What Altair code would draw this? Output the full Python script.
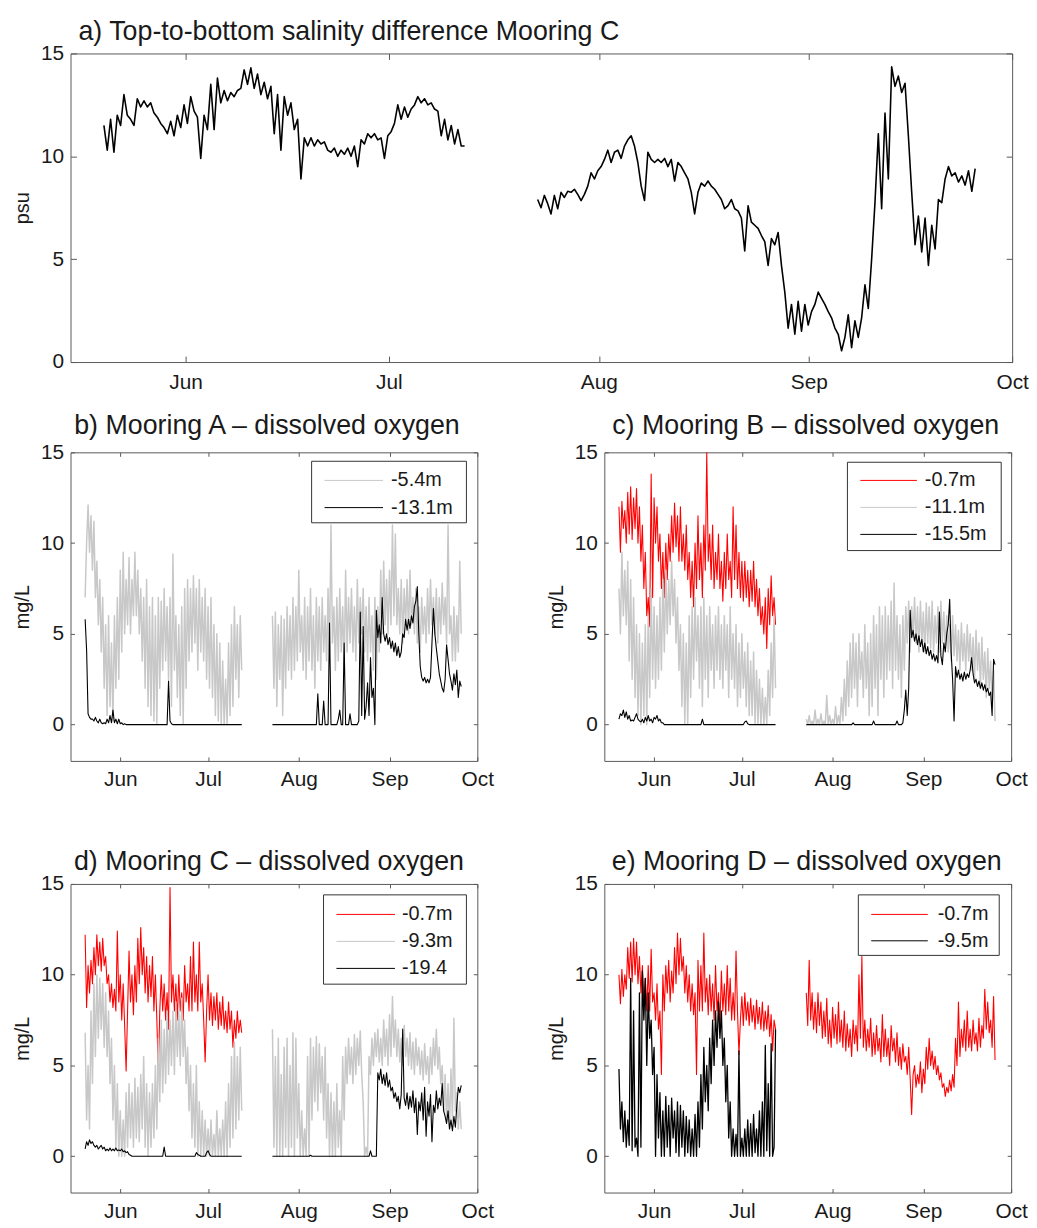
import altair as alt
import numpy as np
import pandas as pd

FONT = "Liberation Sans"
RED = "#ff0000"
GRAY = "#c8c8c8"
BLACK = "#000000"
FRAME = "#5a5a5a"
TEXT = "#1a1a1a"

T0 = pd.Timestamp("2015-05-15 00:00")
X_DOMAIN = [alt.DateTime(year=2015, month=5, date=15), alt.DateTime(year=2015, month=10, date=1)]
TICK_MONTHS = [6, 7, 8, 9, 10]
Y_TICKS = [0, 5, 10, 15]

# sample start (days after 15 May) and step (days)
SEG1_START = 5.0
SEG2_START = 69.0
STEP = 0.5
A_SEG1_START = 4.93
A_SEG2_START = 68.96
A_STEP = 0.493

# ---------------- a) top-to-bottom salinity difference, Mooring C (psu)
A_SEG1 = [11.5, 10.3, 11.8, 10.2, 12.0, 11.5, 13.0, 12.0, 11.8, 11.5,
          12.8, 12.4, 12.7, 12.4, 12.6, 12.1, 11.9, 11.6, 11.4, 11.1,
          11.7, 11.0, 12.0, 11.4, 12.5, 11.6, 12.9, 12.2, 11.9, 9.9,
          12.0, 11.3, 13.5, 11.3, 13.8, 12.6, 13.2, 12.7, 13.1, 12.9,
          13.2, 13.3, 14.2, 13.5, 14.3, 13.3, 14.0, 13.0, 13.6, 12.8,
          13.4, 11.1, 13.0, 10.3, 12.9, 12.0, 12.6, 11.3, 11.8, 8.9,
          10.9, 10.5, 10.9, 10.5, 10.8, 10.6, 10.7, 10.3, 10.2, 10.4,
          10.0, 10.3, 10.1, 10.4, 10.0, 10.5, 9.5, 10.8, 10.6, 11.1,
          10.9, 11.1, 10.8, 10.9, 9.9, 11.0, 11.2, 11.6, 12.5, 11.8,
          12.4, 11.9, 12.3, 12.5, 12.9, 12.6, 12.8, 12.5, 12.6, 12.3,
          12.2, 11.0, 11.8, 10.8, 11.5, 10.6, 11.3, 10.5, 10.5]
A_SEG2 = [7.9, 7.5, 8.1, 7.7, 7.2, 8.1, 7.45, 8.25, 8.0, 8.3,
          8.25, 8.4, 8.15, 7.85, 8.15, 8.55, 9.2, 8.9, 9.3, 9.5,
          9.85, 10.3, 9.7, 10.2, 10.3, 9.9, 10.5, 10.8, 11.0, 10.5,
          9.7, 8.55, 7.85, 10.2, 9.85, 9.7, 9.85, 9.7, 9.9, 9.5,
          9.85, 8.8, 9.7, 9.5, 9.2, 8.9, 8.25, 7.2, 8.25, 8.7,
          8.55, 8.8, 8.55, 8.4, 8.15, 7.9, 7.45, 7.6, 7.9, 7.45,
          7.35, 7.0, 5.4, 7.6, 6.8, 6.65, 6.5, 6.15, 5.85, 4.7,
          6.0, 5.7, 6.3, 4.7, 3.4, 1.65, 2.8, 1.35, 2.95, 1.5,
          2.8, 1.8, 2.45, 2.8, 3.4, 3.1, 2.8, 2.45, 2.15, 1.65,
          1.35, 0.55, 1.2, 2.3, 0.7, 2.0, 1.2, 2.15, 3.75, 2.6,
          5.0, 7.75, 11.1, 7.45, 12.1, 8.9, 14.35, 13.4, 13.9, 13.1,
          13.55, 11.0, 8.25, 5.7, 7.1, 5.35, 7.0, 4.7, 6.65, 5.5,
          7.9, 7.75, 8.9, 9.5, 9.05, 9.2, 8.75, 9.05, 8.6, 9.3,
          8.3, 9.4]

# ---------------- b) Mooring A dissolved oxygen (mg/L)
B_GRAY_1 = [7.0, 10.0, 12.1, 9.5, 11.5, 8.5, 11.2, 7.0, 9.0, 5.5,
            8.0, 4.0, 7.0, 2.0, 5.5, 0.5, 6.0, 1.0, 4.5, 0.2,
            6.0, 2.0, 7.0, 2.5, 8.5, 4.0, 9.5, 5.0, 8.0, 5.5,
            9.2, 5.0, 8.0, 6.0, 9.5, 6.0, 8.5, 5.0, 7.5, 3.5,
            7.0, 2.0, 8.0, 1.0, 6.5, 0.5, 7.0, 0.2, 6.0, 0.0,
            7.0, 2.0, 6.8, 3.0, 7.5, 3.5, 6.5, 2.5, 7.0, 1.0,
            9.4, 3.0, 6.0, 1.5, 5.5, 0.5, 6.5, 0.0, 7.5, 2.0,
            8.0, 3.5, 7.5, 4.0, 8.2, 4.5, 7.5, 3.0, 8.0, 4.0,
            7.0, 3.5, 7.5, 2.5, 6.5, 2.0, 7.0, 1.5, 5.5, 0.5,
            5.0, 0.2, 4.5, 0.0, 3.5, 0.0, 2.5, 0.0, 4.5, 0.5,
            5.5, 1.0, 6.5, 2.5, 5.5, 1.5, 6.0, 3.0]
B_GRAY_2 = [6.0, 2.0, 6.2, 1.0, 5.5, 2.5, 6.0, 0.5, 5.8, 2.0,
            6.5, 3.0, 6.0, 2.5, 7.0, 3.0, 6.5, 3.5, 8.5, 4.0,
            6.0, 3.0, 7.0, 2.5, 6.5, 3.5, 7.5, 3.0, 6.0, 2.0,
            7.0, 3.5, 6.5, 3.0, 7.0, 4.0, 6.0, 3.5, 7.5, 4.0,
            11.0, 4.5, 6.5, 3.0, 7.0, 3.5, 7.5, 4.0, 6.5, 3.0,
            8.5, 4.0, 7.0, 4.5, 7.5, 4.0, 6.5, 3.5, 8.0, 4.5,
            7.0, 5.0, 7.5, 4.0, 6.5, 3.5, 7.0, 4.0, 6.0, 3.0,
            7.0, 2.5, 6.5, 4.0, 8.5, 5.0, 9.0, 5.5, 8.0, 5.0,
            8.5, 5.5, 11.0, 6.0, 10.5, 5.5, 7.5, 5.0, 8.0, 4.5,
            7.5, 5.5, 8.0, 5.0, 8.5, 5.5, 7.0, 5.0, 7.5, 4.5,
            6.5, 4.0, 7.0, 5.0, 6.5, 4.5, 7.5, 5.0, 8.0, 5.5,
            7.0, 5.0, 7.5, 4.5, 7.0, 5.0, 7.8, 5.5, 7.0, 4.5,
            11.0, 5.0, 6.0, 3.5, 6.5, 3.5, 6.0, 4.0, 9.0, 5.0]
B_BLACK_1 = ([5.8, 4.1, 0.6, 0.4, 0.3, 0.3, 0.2, 0.4, 0.2, 0.1,
              0.3, 0.1, 0.05, 0.1, 0.05, 0.3, 0.1, 0.5, 0.1, 0.8,
              0.1, 0.3, 0.05, 0.3, 0.05, 0.1, 0.0, 0.05, 0.0, 0.0]
             + [0.0] * 27 + [2.4, 0.2, 0.05] + [0.0] * 48)
B_BLACK_2 = ([0.0] * 31 + [1.7, 0.0, 0.0, 0.0, 1.3, 0.0, 0.0, 0.0, 5.6]
             + [0.0] * 5
             + [0.3, 0.8, 0.0, 0.0, 4.5, 0.0, 0.0, 0.0, 0.6, 0.0, 0.0, 0.0, 0.0, 0.0, 0.2,
                6.2, 0.5, 5.4, 0.3, 1.0, 2.3, 0.5, 3.7, 1.5, 2.0, 0.0,
                6.3, 4.8, 5.5, 4.5, 7.0, 5.0, 4.6, 5.0, 4.4, 4.8,
                4.2, 4.6, 4.0, 4.5, 3.8, 4.3, 3.7, 4.0, 5.0, 4.8,
                5.8, 5.2, 5.8, 5.3, 6.0, 5.6, 6.5, 6.8, 7.6, 5.0,
                3.2, 2.6, 2.4, 2.6, 2.3, 2.5, 2.3, 2.6, 4.5, 6.4,
                5.0, 4.2, 3.5, 2.8, 2.4, 2.0, 1.8, 2.5, 4.4, 3.6,
                2.8, 2.4, 1.9, 2.8, 2.2, 3.0, 1.5, 2.4, 2.1])

# ---------------- c) Mooring B dissolved oxygen (mg/L)
C_RED_1 = [12.0, 9.5, 12.3, 10.8, 11.8, 10.0, 12.8, 10.5, 13.1, 10.2,
           12.5, 10.8, 13.0, 10.0, 12.0, 9.0, 11.0, 7.5, 9.5, 6.0,
           7.0, 5.4, 13.8, 7.0, 12.5, 10.0, 12.0, 9.0, 10.5, 7.5,
           9.5, 7.0, 10.0, 8.0, 10.5, 9.0, 11.5, 9.5, 12.2, 9.8,
           11.5, 9.0, 12.0, 9.0, 10.5, 8.5, 11.0, 8.0, 9.5, 7.0,
           9.0, 6.5, 10.0, 7.5, 11.5, 8.0, 10.0, 7.0, 11.0, 8.5,
           15.0, 9.0, 10.5, 8.0, 11.0, 7.5, 9.5, 8.0, 10.5, 7.5,
           9.0, 6.8, 9.5, 7.5, 10.5, 8.0, 9.0, 7.0, 12.0, 8.0,
           11.0, 7.5, 9.5, 7.0, 9.0, 6.8, 9.0, 7.0, 8.5, 6.5,
           8.5, 6.8, 9.0, 6.5, 8.0, 6.0, 7.5, 5.5, 6.5, 5.0,
           7.0, 4.2, 7.5, 5.5, 8.2, 6.0, 7.0, 5.5]
C_GRAY_1 = [7.5, 5.0, 9.5, 6.0, 8.5, 5.5, 9.0, 3.5, 8.0, 2.5,
            7.0, 1.5, 5.5, 0.5, 5.0, 0.0, 4.5, 0.5, 5.5, 0.0,
            6.0, 1.5, 7.5, 2.5, 6.5, 2.0, 6.0, 2.5, 7.0, 3.0,
            8.0, 4.0, 8.5, 5.0, 8.0, 5.5, 9.0, 6.0, 8.0, 4.5,
            7.0, 3.0, 5.5, 1.0, 5.0, 0.0, 4.5, 0.0, 6.0, 1.5,
            6.5, 2.5, 7.0, 3.5, 6.0, 2.0, 6.5, 1.0, 7.0, 2.5,
            6.0, 1.5, 6.5, 3.0, 5.5, 2.0, 6.0, 3.0, 6.5, 2.5,
            5.5, 2.0, 6.0, 3.0, 5.5, 1.5, 6.5, 2.5, 5.0, 2.0,
            5.5, 1.0, 4.5, 1.5, 5.0, 2.0, 4.0, 1.0, 4.5, 0.5,
            3.5, 0.5, 4.0, 0.0, 3.0, 0.0, 2.5, 0.0, 2.0, 0.0,
            1.5, 0.0, 3.0, 0.5, 4.5, 1.5, 6.0, 2.0]
C_GRAY_2 = [0.3, 0.0, 0.5, 0.0, 0.2, 0.0, 0.8, 0.0, 0.3, 0.0,
            0.6, 0.0, 0.2, 0.0, 1.6, 0.0, 0.5, 0.0, 0.3, 0.0,
            1.0, 0.0, 0.5, 0.0, 1.5, 0.2, 2.5, 0.5, 3.5, 1.0,
            4.5, 1.5, 5.0, 2.0, 4.5, 1.0, 5.0, 2.5, 4.0, 1.5,
            5.5, 2.0, 4.5, 0.5, 5.0, 1.0, 6.0, 2.0, 5.5, 0.5,
            6.5, 2.5, 6.0, 1.5, 6.5, 2.5, 6.0, 3.0, 6.8, 2.0,
            7.8, 3.0, 6.0, 2.5, 5.5, 1.5, 6.0, 3.0, 6.5, 4.5,
            6.8, 4.0, 6.5, 4.8, 7.0, 4.5, 6.5, 4.0, 6.8, 4.5,
            6.2, 4.0, 6.7, 4.5, 6.5, 4.2, 6.8, 4.0, 6.0, 4.5,
            6.5, 4.0, 6.8, 4.5, 6.2, 4.2, 6.0, 4.0, 5.5, 3.5,
            6.0, 3.8, 5.5, 3.5, 5.2, 3.0, 5.6, 3.5, 5.0, 3.0,
            5.5, 3.5, 5.0, 3.0, 4.8, 2.5, 5.2, 3.0, 4.5, 2.0,
            4.8, 2.5, 4.0, 1.5, 4.2, 2.0, 3.5, 1.0, 3.0, 0.2]
C_BLACK_1 = ([0.3, 0.6, 0.5, 0.8, 0.4, 0.7, 0.3, 0.5, 0.2, 0.25,
              0.2, 0.4, 0.6, 0.3, 0.2, 0.15, 0.3, 0.1, 0.4, 0.2,
              0.5, 0.2, 0.3, 0.1, 0.4, 0.3, 0.5, 0.2, 0.3, 0.1,
              0.1, 0.0] + [0.0] * 25 + [0.3] + [0.0] * 28
             + [0.15, 0.2, 0.05] + [0.0] * 19)
C_BLACK_2 = ([0.0] * 32 + [0.1] + [0.0] * 13 + [0.2] + [0.0] * 15 + [0.2] + [0.0] * 3
             + [0.1, 0.8, 1.9, 0.5, 2.0,
                6.3, 4.8, 5.2, 4.6, 5.0, 4.4, 4.9, 4.3, 4.7, 4.0,
                4.5, 3.9, 4.3, 3.8, 4.1, 3.6, 3.9, 3.5, 3.8, 3.4,
                6.2, 3.8, 3.3, 4.5, 4.0, 5.0, 5.5, 6.9, 4.0, 2.5,
                0.2, 3.2, 2.6, 3.0, 2.5, 2.8, 2.4, 2.9, 2.5, 2.8,
                2.6, 3.0, 3.7, 2.8, 2.3, 2.5, 2.1, 2.4, 2.0, 2.3,
                1.9, 2.2, 1.8, 2.0, 1.6, 1.8, 0.5, 3.6, 3.3])

# ---------------- d) Mooring C dissolved oxygen (mg/L)
D_RED_1 = [12.2, 8.2, 10.5, 9.0, 10.8, 9.5, 11.5, 10.0, 12.2, 10.5,
           11.8, 10.2, 12.0, 10.5, 11.0, 9.5, 10.0, 8.5, 9.5, 8.2,
           9.2, 8.0, 12.4, 8.5, 10.0, 7.5, 9.5, 7.2, 4.7, 8.0,
           11.3, 8.5, 10.0, 7.8, 10.5, 8.5, 12.0, 9.5, 12.6, 10.0,
           11.5, 9.0, 11.0, 8.5, 10.5, 8.8, 11.0, 8.0, 10.0, 7.5,
           4.6, 8.0, 10.0, 8.0, 9.5, 7.5, 9.0, 7.0, 14.8, 8.5,
           10.0, 8.0, 9.5, 7.5, 10.0, 8.0, 9.0, 7.5, 10.5, 8.5,
           9.5, 8.0, 11.0, 8.0, 11.8, 8.5, 10.0, 8.0, 11.8, 8.5,
           9.5, 7.5, 5.2, 8.0, 10.0, 7.5, 9.0, 7.2, 8.8, 7.5,
           9.0, 7.0, 8.5, 7.2, 8.8, 7.0, 8.0, 6.8, 8.5, 7.0,
           8.0, 6.0, 7.5, 6.5, 8.0, 6.8, 7.5, 6.8]
D_GRAY_1 = [6.8, 2.0, 5.0, 1.5, 8.0, 4.0, 9.5, 5.5, 10.0, 6.5,
            9.8, 7.0, 9.5, 6.0, 9.0, 5.5, 8.0, 4.0, 6.5, 2.0,
            5.0, 0.5, 4.0, 0.0, 2.5, 0.0, 2.0, 0.0, 3.5, 0.5,
            4.0, 1.0, 3.5, 0.5, 4.3, 1.0, 3.8, 0.8, 4.5, 1.5,
            5.5, 0.5, 4.0, 0.0, 3.5, 0.5, 4.0, 1.0, 5.0, 1.5,
            6.5, 3.0, 7.5, 3.5, 7.0, 4.0, 8.0, 4.5, 7.5, 5.0,
            8.0, 4.5, 8.5, 5.5, 8.0, 5.0, 8.7, 5.5, 7.5, 4.0,
            6.0, 2.5, 5.0, 1.0, 4.0, 0.5, 5.0, 0.0, 3.0, 0.0,
            2.5, 0.0, 2.0, 0.0, 1.5, 0.0, 2.0, 0.0, 1.2, 0.0,
            2.5, 0.0, 1.5, 0.0, 2.0, 0.0, 3.0, 0.0, 4.0, 0.5,
            5.5, 1.0, 6.3, 1.5, 5.5, 2.0, 6.0, 2.5]
D_GRAY_2 = [7.0, 0.5, 5.5, 0.0, 6.5, 0.0, 4.5, 0.0, 6.0, 0.5,
            6.5, 0.0, 5.0, 0.5, 6.8, 0.0, 6.5, 1.0, 4.0, 0.0,
            2.5, 0.0, 1.5, 0.0, 5.5, 0.0, 6.5, 2.0, 6.0, 3.0,
            6.6, 2.5, 6.2, 3.5, 5.5, 2.0, 6.0, 1.0, 4.0, 0.0,
            3.5, 0.0, 3.0, 0.0, 4.0, 0.5, 2.5, 0.0, 5.5, 2.0,
            6.0, 4.0, 6.5, 4.5, 6.0, 4.0, 6.7, 4.5, 6.5, 5.0,
            6.9, 4.5, 3.0, 0.0, 0.5, 0.0, 5.5, 4.5, 6.5, 5.0,
            6.8, 5.5, 7.0, 5.2, 6.5, 5.0, 7.5, 5.5, 7.0, 5.0,
            7.8, 5.5, 8.8, 6.0, 7.5, 5.5, 7.0, 5.2, 6.5, 5.0,
            7.2, 5.5, 6.5, 5.0, 6.8, 4.8, 6.3, 4.5, 6.5, 5.0,
            6.0, 4.5, 5.8, 4.2, 6.2, 4.5, 5.5, 4.0, 6.0, 4.5,
            6.5, 5.0, 7.0, 4.8, 6.0, 4.0, 5.0, 2.5, 4.5, 2.0,
            4.0, 1.5, 4.8, 2.0, 7.6, 2.5, 3.5, 1.5, 3.0, 1.5]
D_BLACK_1 = ([0.4, 0.8, 0.6, 0.9, 0.7, 0.8, 0.6, 0.5, 0.6, 0.4,
              0.5, 0.6, 0.4, 0.5, 0.3, 0.4, 0.3, 0.45, 0.3, 0.4,
              0.3, 0.45, 0.3, 0.35, 0.3, 0.4, 0.25, 0.3, 0.2, 0.25,
              0.1, 0.05] + [0.0] * 22 + [0.5] + [0.0] * 21
             + [0.2, 0.1, 0.05] + [0.0] * 4 + [0.2, 0.3, 0.1] + [0.0] * 22)
D_BLACK_2 = ([0.0] * 26 + [0.05] + [0.0] * 40 + [0.3] + [0.0] * 4
             + [4.6, 4.2, 4.8, 4.0, 4.5, 3.9, 4.6, 3.8, 4.2, 3.6,
                3.8, 3.2, 3.5, 3.0, 3.3, 2.6, 3.4, 7.0, 3.2, 2.8,
                3.5, 2.6, 3.3, 2.7, 3.6, 2.4, 3.2, 1.2, 3.0, 2.5,
                3.5, 2.0, 3.8, 1.1, 3.0, 2.2, 3.4, 0.8, 2.8, 2.4,
                3.6, 2.6, 3.2, 2.8, 4.0, 2.5, 2.2, 1.8, 2.5, 1.5,
                2.0, 1.4, 2.2, 1.6, 2.8, 3.8, 3.5, 3.9])

# ---------------- e) Mooring D dissolved oxygen (mg/L)
E_RED_1 = [10.0, 8.4, 10.3, 8.8, 10.0, 9.2, 11.5, 9.8, 11.8, 9.6,
           12.0, 10.0, 11.8, 9.5, 11.0, 9.0, 10.5, 8.5, 9.8, 8.0,
           10.5, 8.0, 11.4, 8.5, 9.0, 7.5, 9.5, 7.0, 8.0, 4.5,
           10.0, 8.0, 10.5, 9.0, 10.8, 8.5, 10.2, 9.0, 11.5, 9.5,
           12.3, 10.0, 12.0, 10.2, 11.0, 9.0, 10.5, 8.5, 10.0, 8.0,
           9.5, 7.8, 9.0, 4.5, 10.8, 8.0, 10.5, 8.0, 12.3, 8.5,
           9.8, 7.8, 10.0, 8.0, 9.5, 7.5, 10.5, 8.0, 9.0, 7.2,
           10.2, 8.0, 9.5, 7.8, 10.5, 8.0, 9.8, 7.5, 9.0, 7.5,
           11.3, 8.0, 5.6, 7.5, 8.8, 7.2, 9.0, 7.5, 8.5, 7.2,
           8.7, 7.4, 8.3, 7.0, 8.6, 7.3, 8.2, 7.0, 8.5, 6.9,
           8.0, 7.0, 8.3, 6.6, 7.8, 5.8, 7.5, 7.0]
E_RED_2 = [9.0, 7.2, 10.8, 7.5, 9.0, 7.0, 8.5, 6.8, 9.0, 7.2,
           8.5, 6.5, 8.0, 6.6, 8.7, 6.2, 7.5, 6.0, 8.2, 6.5,
           7.8, 6.2, 8.5, 6.3, 7.5, 6.0, 8.0, 5.8, 7.3, 6.0,
           7.0, 5.5, 7.5, 6.2, 7.2, 5.8, 10.0, 6.5, 11.0, 6.0,
           7.5, 5.8, 7.0, 6.0, 7.6, 5.5, 6.8, 5.6, 7.2, 5.8,
           6.5, 5.2, 7.8, 5.5, 7.0, 5.5, 6.5, 5.0, 7.2, 5.8,
           6.5, 5.2, 6.8, 5.0, 6.0, 4.8, 6.2, 5.2, 5.5, 4.5,
           6.0, 4.3, 2.3, 4.5, 5.0, 3.8, 4.5, 4.0, 5.2, 3.5,
           4.8, 4.0, 6.0, 4.8, 6.5, 5.0, 5.8, 4.8, 5.5, 4.5,
           5.0, 4.2, 4.6, 3.8, 4.0, 3.3, 3.8, 3.5, 4.2, 3.6,
           4.5, 3.8, 6.5, 5.0, 8.5, 5.5, 7.0, 6.0, 7.5, 5.8,
           8.0, 6.0, 7.0, 5.8, 7.5, 6.2, 6.8, 5.8, 7.6, 6.0,
           7.2, 6.5, 9.2, 7.0, 8.5, 6.8, 7.5, 6.0, 8.8, 5.3]
E_BLACK_1 = [4.8, 1.5, 3.0, 0.8, 2.5, 0.5, 2.0, 0.6, 9.8, 0.3,
             8.0, 0.5, 1.0, 0.0, 9.0, 0.5, 10.2, 7.5, 9.8, 5.0,
             9.0, 6.5, 7.5, 4.5, 6.0, 0.0, 4.5, 1.0, 3.5, 0.0,
             2.5, 0.0, 3.3, 0.5, 2.8, 0.0, 3.2, 1.0, 2.5, 0.2,
             3.0, 0.0, 2.8, 0.5, 2.5, 0.0, 2.2, 0.2, 2.0, 0.0,
             1.5, 0.0, 2.3, 0.0, 3.0, 0.5, 4.5, 1.5, 6.0, 3.0,
             5.0, 2.5, 6.5, 4.0, 7.5, 5.0, 8.0, 6.0, 8.5, 6.5,
             8.0, 5.0, 6.5, 3.0, 5.0, 1.0, 3.0, 0.0, 1.5, 0.0,
             1.2, 0.0, 5.8, 0.0, 1.0, 0.0, 1.5, 0.0, 2.0, 0.0,
             1.8, 0.0, 2.3, 0.2, 1.5, 0.0, 2.5, 0.0, 3.0, 0.0,
             6.1, 0.3, 4.0, 0.0, 6.2, 0.0, 0.5, 7.0]

LEG_B = (["-5.4m", "-13.1m"], [GRAY, BLACK])
LEG_C = (["-0.7m", "-11.1m", "-15.5m"], [RED, GRAY, BLACK])
LEG_D = (["-0.7m", "-9.3m", "-19.4"], [RED, GRAY, BLACK])
LEG_E = (["-0.7m", "-9.5m"], [RED, BLACK])


def make_df(segments):
    frames = []
    for k, (vals, start, step) in enumerate(segments):
        days = start + step * np.arange(len(vals))
        frames.append(pd.DataFrame({
            "time": T0 + pd.to_timedelta(days, unit="D"),
            "value": vals,
            "seg": k,
        }))
    return pd.concat(frames, ignore_index=True)


def two(v1, v2):
    return make_df([(v1, SEG1_START, STEP), (v2, SEG2_START, STEP)])


def one(v1):
    return make_df([(v1, SEG1_START, STEP)])


TICK_DATES = [alt.DateTime(year=2015, month=m, date=1) for m in TICK_MONTHS]
ONE_ROW = pd.DataFrame({"k": [0]})


def white_dot(x, y):
    return (alt.Chart(ONE_ROW).mark_rule(color="white", strokeWidth=1)
            .encode(x=alt.value(x), x2=alt.value(x + 1), y=alt.value(y)))


def build_panel(series, title, title_x, title_y, title_align, ytitle, ydom,
                W, H, tick, legend=None, geom=None, label_pad_x=8, top_anchor=-45,
                left_anchor=None):
    xs = alt.Scale(domain=X_DOMAIN)
    ys = alt.Scale(domain=ydom, nice=False, zero=False)
    x_main = alt.Axis(values=TICK_DATES, format="%b", title=None, grid=False, domain=False,
                      orient="bottom", offset=-tick, tickSize=tick, tickColor=FRAME, tickWidth=1,
                      labelFontSize=21, labelColor=TEXT, labelPadding=label_pad_x,
                      labelFlush=False, labelOverlap=False)
    y_main = alt.Axis(values=Y_TICKS, title=ytitle, grid=False, domain=False, orient="left",
                      offset=-tick, tickSize=tick, tickColor=FRAME, tickWidth=1,
                      labelFontSize=21, labelColor=TEXT, labelPadding=7,
                      titleFontSize=20, titleFontWeight="normal", titleColor=TEXT,
                      titleX=-(48 + tick), titleY=H / 2, titleAngle=-90,
                      titleAlign="center", titleBaseline="middle")
    x_top = alt.Axis(values=TICK_DATES, orient="top", labels=False, title=None, grid=False,
                     domain=False, offset=-tick, tickSize=tick, tickColor=FRAME, tickWidth=1)
    y_right = alt.Axis(values=Y_TICKS, orient="right", labels=False, title=None, grid=False,
                       domain=False, offset=-tick, tickSize=tick, tickColor=FRAME, tickWidth=1)

    layers = []
    for i, (df, color, sw) in enumerate(series):
        layers.append(
            alt.Chart(df).mark_line(color=color, strokeWidth=sw, strokeJoin="round", clip=True)
            .encode(x=alt.X("time:T", scale=xs, axis=x_main if i == 0 else None),
                    y=alt.Y("value:Q", scale=ys, axis=y_main if i == 0 else None),
                    detail="seg:N")
        )
    layers.append(
        alt.Chart(series[0][0]).mark_line(opacity=0)
        .encode(x=alt.X("time:T", scale=xs, axis=x_top),
                y=alt.Y("value:Q", scale=ys, axis=y_right),
                detail="seg:N")
    )
    if legend is not None:
        labels, colors = legend
        ldf = pd.DataFrame({"label": labels, "color": colors, "row": list(range(len(labels)))})
        bx0, bx1, by0, by1, lx0, lx1, tx, row0, dy = geom
        layers.append(
            alt.Chart(ONE_ROW).mark_rect(fill="white", stroke="#333333", strokeWidth=1)
            .encode(x=alt.value(bx0), x2=alt.value(bx1), y=alt.value(by0), y2=alt.value(by1))
        )
        layers.append(
            alt.Chart(ldf).transform_calculate(ly=f"{row0} + datum.row * {dy}")
            .mark_rule(strokeWidth=1)
            .encode(x=alt.value(lx0), x2=alt.value(lx1),
                    y=alt.Y("ly:Q", scale=None, axis=None),
                    color=alt.Color("color:N", scale=None, legend=None))
        )
        layers.append(
            alt.Chart(ldf).transform_calculate(ly=f"{row0} + datum.row * {dy}")
            .mark_text(align="left", baseline="middle", fontSize=20, color=TEXT)
            .encode(x=alt.value(tx), y=alt.Y("ly:Q", scale=None, axis=None), text="label:N")
        )
    # panel title as a text mark
    layers.append(
        alt.Chart(ONE_ROW).mark_text(text=title, align=title_align, baseline="middle",
                                     fontSize=27, color=TEXT)
        .encode(x=alt.value(title_x), y=alt.value(title_y))
    )
    # invisible anchors fixing the bounds used by the layout
    layers.append(white_dot(10, top_anchor))
    layers.append(white_dot(10, H + 40))
    if left_anchor is not None:
        layers.append(white_dot(left_anchor, 100))
    return (alt.layer(*layers)
            .resolve_axis(x="independent", y="independent")
            .properties(width=W, height=H))


W_A, H_A = 949, 311
W_S, H_S = 410, 311

panel_a = build_panel(
    [(make_df([(A_SEG1, A_SEG1_START, A_STEP), (A_SEG2, A_SEG2_START, A_STEP)]), BLACK, 1.6)],
    "a) Top-to-bottom salinity difference Mooring C", 8, -22, "left", "psu", [0, 15],
    W_A, H_A, 6, label_pad_x=10, top_anchor=-40, left_anchor=-62)

panel_b = build_panel(
    [(two(B_GRAY_1, B_GRAY_2), GRAY, 1.5), (two(B_BLACK_1, B_BLACK_2), BLACK, 1.1)],
    "b) Mooring A \u2013 dissolved oxygen", 198, -26, "center", "mg/L", [-2, 15],
    W_S, H_S, 4, legend=LEG_B, left_anchor=-62,
    geom=(243, 399, 9, 71, 256, 315, 323, 28.3, 27.4))

panel_c = build_panel(
    [(one(C_RED_1), RED, 1.1), (two(C_GRAY_1, C_GRAY_2), GRAY, 1.5), (two(C_BLACK_1, C_BLACK_2), BLACK, 1.1)],
    "c) Mooring B \u2013 dissolved oxygen", 203, -26, "center", "mg/L", [-2, 15],
    W_S, H_S, 4, legend=LEG_C,
    geom=(245, 400, 10, 99, 258, 315, 323, 28.3, 27.2))

panel_d = build_panel(
    [(one(D_RED_1), RED, 1.1), (two(D_GRAY_1, D_GRAY_2), GRAY, 1.5), (two(D_BLACK_1, D_BLACK_2), BLACK, 1.1)],
    "d) Mooring C \u2013 dissolved oxygen", 200, -22, "center", "mg/L", [-2, 15],
    W_S, H_S, 4, legend=LEG_D, left_anchor=-62,
    geom=(255, 399, 11, 101, 268, 327, 334, 30.7, 27.2))

panel_e = build_panel(
    [(two(E_RED_1, E_RED_2), RED, 1.1), (one(E_BLACK_1), BLACK, 1.3)],
    "e) Mooring D \u2013 dissolved oxygen", 204, -22, "center", "mg/L", [-2, 15],
    W_S, H_S, 4, legend=LEG_E,
    geom=(256, 398, 11, 72, 269, 326, 336, 30.7, 26.6))

row1 = alt.hconcat(panel_b, panel_c, spacing=128, bounds="flush")
row2 = alt.hconcat(panel_d, panel_e, spacing=128, bounds="flush")
lower = alt.vconcat(row1, row2, spacing=37)

chart = (alt.vconcat(panel_a, lower, spacing=4)
         .properties(padding=0, background="white")
         .configure(font=FONT)
         .configure_view(stroke=FRAME, strokeWidth=1))

chart.save("out.html", embed_options={"renderer": "svg", "actions": False})
